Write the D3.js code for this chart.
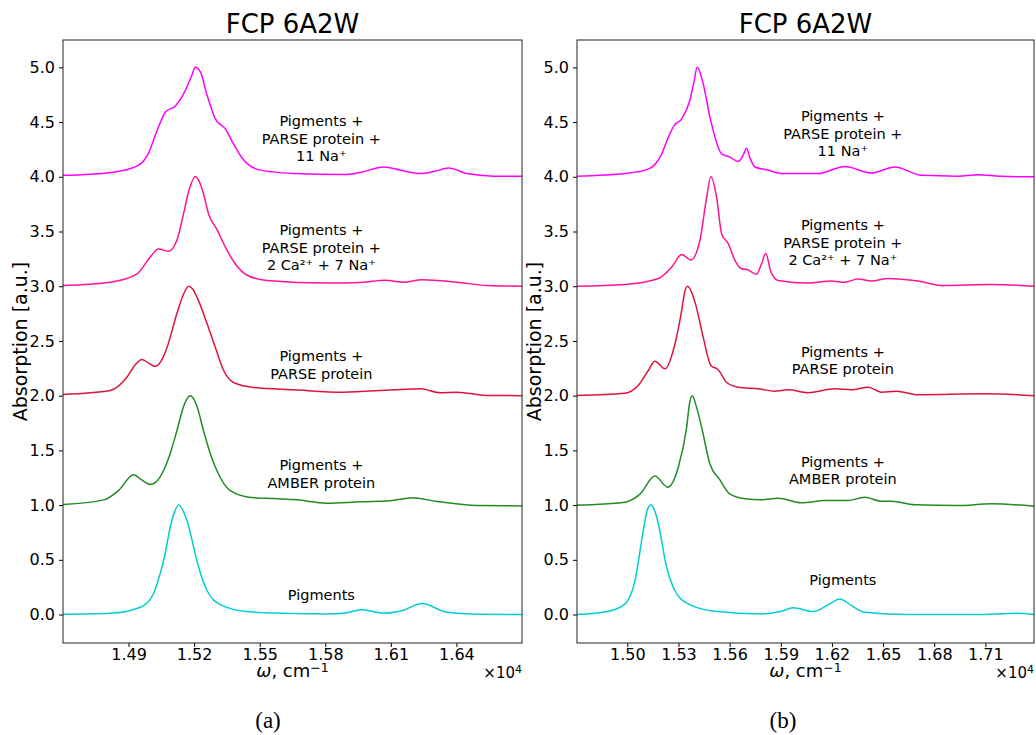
<!DOCTYPE html>
<html>
<head>
<meta charset="utf-8">
<script src="https://cdn.jsdelivr.net/npm/d3@7"></script>
<style>
  body { margin: 0; background: #fff; }
  svg text { font-family: "DejaVu Sans", sans-serif; fill: #000; }
</style>
</head>
<body>
<script>
//series values: [omega in cm^-1, absorption + offset]
//panel (a)
let pigA = [[14600,0.003],[14816,0.012],[14954,0.067],[15014,0.19],[15035,0.31],[15060,0.49],[15098,0.86],[15129,1.0],[15167,0.86],[15213,0.49],[15240,0.31],[15259,0.22],[15320,0.091],[15442,0.027],[15600,0.012],[15808,0.006],[15890,0.015],[15968,0.043],[16067,0.012],[16150,0.035],[16242,0.10],[16357,0.021],[16500,0.003],[16700,0.0]];
let amberA = [[14600,1.005],[14786,1.048],[14854,1.133],[14923,1.277],[14960,1.23],[14999,1.188],[15030,1.22],[15060,1.316],[15090,1.47],[15121,1.68],[15155,1.92],[15182,2.0],[15210,1.92],[15243,1.68],[15274,1.47],[15304,1.316],[15365,1.133],[15472,1.067],[15570,1.06],[15655,1.051],[15808,1.017],[15960,1.03],[16097,1.039],[16197,1.067],[16311,1.033],[16494,0.996],[16700,0.993]];
let parseA = [[14600,2.011],[14816,2.047],[14893,2.17],[14930,2.28],[14961,2.33],[14990,2.30],[15022,2.267],[15050,2.32],[15076,2.44],[15121,2.75],[15150,2.92],[15175,3.0],[15195,2.97],[15213,2.90],[15259,2.66],[15297,2.44],[15335,2.23],[15380,2.12],[15472,2.075],[15655,2.054],[15884,2.032],[16112,2.054],[16235,2.063],[16326,2.027],[16402,2.032],[16540,2.002],[16700,2.0]];
let caNaA = [[14600,3.007],[14816,3.037],[14938,3.11],[15000,3.27],[15037,3.34],[15083,3.32],[15121,3.42],[15150,3.65],[15177,3.88],[15205,4.0],[15225,3.95],[15243,3.845],[15266,3.66],[15304,3.52],[15350,3.33],[15388,3.205],[15442,3.10],[15533,3.053],[15808,3.03],[15960,3.035],[16074,3.055],[16158,3.037],[16242,3.06],[16402,3.037],[16540,3.007],[16700,3.0]];
let na11A = [[14600,4.013],[14820,4.04],[14940,4.10],[14990,4.21],[15030,4.42],[15068,4.59],[15115,4.65],[15160,4.79],[15190,4.93],[15205,5.0],[15228,4.96],[15260,4.74],[15297,4.53],[15342,4.44],[15380,4.30],[15420,4.17],[15487,4.07],[15560,4.045],[15655,4.03],[15884,4.02],[15960,4.04],[16067,4.09],[16145,4.06],[16237,4.03],[16300,4.05],[16364,4.08],[16448,4.03],[16569,4.006],[16700,4.004]];

//panel (b)
let pigB = [[14705,0.0],[14889,0.03],[14987,0.098],[15045,0.31],[15094,0.77],[15118,0.96],[15139,1.0],[15160,0.95],[15182,0.83],[15231,0.43],[15279,0.22],[15357,0.098],[15514,0.03],[15787,0.006],[15904,0.03],[15972,0.061],[16090,0.027],[16187,0.098],[16246,0.143],[16315,0.082],[16392,0.021],[16646,0.0],[17037,0.0],[17290,0.012],[17385,0.0]];
let amberB = [[14705,1.0],[14987,1.027],[15074,1.10],[15162,1.265],[15237,1.164],[15299,1.346],[15348,1.71],[15365,1.93],[15381,2.0],[15405,1.9],[15436,1.71],[15484,1.378],[15543,1.23],[15602,1.10],[15690,1.058],[15787,1.048],[15885,1.063],[16022,1.021],[16158,1.042],[16295,1.042],[16392,1.072],[16490,1.036],[16549,1.036],[16685,1.003],[16939,0.996],[17135,1.012],[17385,0.99]];
let parseB = [[14705,2.002],[14987,2.023],[15064,2.093],[15123,2.23],[15162,2.315],[15221,2.245],[15279,2.47],[15319,2.78],[15337,2.95],[15354,3.0],[15397,2.855],[15445,2.535],[15490,2.276],[15533,2.237],[15582,2.123],[15650,2.078],[15767,2.063],[15865,2.041],[15943,2.054],[16060,2.027],[16217,2.063],[16315,2.054],[16412,2.078],[16490,2.032],[16578,2.041],[16705,2.008],[17095,2.017],[17385,2.0]];
let caNaB = [[14705,3.0],[14987,3.016],[15182,3.07],[15260,3.175],[15319,3.29],[15373,3.24],[15426,3.42],[15465,3.81],[15490,4.0],[15524,3.81],[15553,3.48],[15592,3.39],[15631,3.236],[15670,3.16],[15705,3.15],[15758,3.11],[15787,3.205],[15812,3.30],[15842,3.13],[15885,3.053],[16060,3.03],[16197,3.047],[16275,3.037],[16353,3.065],[16432,3.047],[16529,3.07],[16705,3.047],[16842,3.007],[17135,3.016],[17385,3.0]];
let na11B = [[14705,4.006],[14987,4.03],[15123,4.07],[15202,4.21],[15240,4.36],[15275,4.47],[15319,4.53],[15367,4.70],[15390,4.86],[15410,5.0],[15445,4.85],[15484,4.55],[15553,4.21],[15601,4.18],[15650,4.14],[15680,4.2],[15699,4.26],[15720,4.17],[15748,4.09],[15817,4.065],[15904,4.03],[16119,4.03],[16275,4.095],[16432,4.034],[16568,4.09],[16725,4.013],[16939,4.006],[17056,4.019],[17193,4.004],[17385,4.0]];

//tick values
let xTicksA = [14900, 15200, 15500, 15800, 16100, 16400];
let xTicksB = [15000, 15300, 15600, 15900, 16200, 16500, 16800, 17100];
let yTicks = [0, 0.5, 1, 1.5, 2, 2.5, 3, 3.5, 4, 4.5, 5];

//curve labels, bottom to top
let labelLines = [
    ["Pigments"],
    ["Pigments +", "AMBER protein"],
    ["Pigments +", "PARSE protein"],
    ["Pigments +", "PARSE protein +", "2 Ca\u00B2\u207A + 7 Na\u207A"],
    ["Pigments +", "PARSE protein +", "11 Na\u207A"]
];
//where the first line of each label sits, in data units
let labelXA = 15782, labelYA = [0.185, 1.366, 2.362, 3.514, 4.51];
let labelXB = 16264, labelYB = [0.322, 1.397, 2.402, 3.559, 4.555];

let colors = ["#00CED1", "#228B22", "#DC143C", "#FF1493", "#FF00FF"];

//set up the figure
let width = 1036,
    height = 735;

let svg = d3.select("body")
    .append("svg")
    .attr("width", width)
    .attr("height", height);

let panels = [
    { left: 63, right: 522, xDomain: [14600, 16700], xTicks: xTicksA, series: [pigA, amberA, parseA, caNaA, na11A],
      labelX: labelXA, labelY: labelYA, caption: "(a)", captionX: 268 },
    { left: 577, right: 1034, xDomain: [14705, 17385], xTicks: xTicksB, series: [pigB, amberB, parseB, caNaB, na11B],
      labelX: labelXB, labelY: labelYB, caption: "(b)", captionX: 783 }
];

let plotTop = 40, plotBottom = 643;

panels.forEach(drawPanel);

function drawPanel(p) {
    let x = d3.scaleLinear().domain(p.xDomain).range([p.left, p.right]);
    let y = d3.scaleLinear().domain([-0.26, 5.25]).range([plotBottom, plotTop]);

    let g = svg.append("g");

    //curves
    let line = d3.line()
        .x(function (d) { return x(d[0]); })
        .y(function (d) { return y(d[1]); })
        .curve(d3.curveMonotoneX);

    g.selectAll(".curve")
        .data(p.series)
        .enter()
        .append("path")
        .attr("class", "curve")
        .attr("d", line)
        .attr("fill", "none")
        .attr("stroke", function (d, i) { return colors[i]; })
        .attr("stroke-width", 1.5);

    //curve labels
    labelLines.forEach(function (lines, i) {
        let t = g.append("text")
            .attr("text-anchor", "middle")
            .attr("font-size", "14.5px");
        lines.forEach(function (s, j) {
            t.append("tspan")
                .attr("x", x(p.labelX))
                .attr("y", y(p.labelY[i]) + j * 17.5)
                .attr("dy", "0.36em")
                .text(s);
        });
    });

    //axes
    let xAxis = g.append("g")
        .attr("transform", "translate(0," + plotBottom + ")")
        .call(d3.axisBottom(x)
            .tickValues(p.xTicks)
            .tickFormat(function (d) { return d3.format(".2f")(d / 1e4); })
            .tickSize(4)
            .tickPadding(2));

    let yAxis = g.append("g")
        .attr("transform", "translate(" + p.left + ",0)")
        .call(d3.axisLeft(y)
            .tickValues(yTicks)
            .tickFormat(d3.format(".1f"))
            .tickSize(4)
            .tickPadding(4));

    [xAxis, yAxis].forEach(function (a) {
        a.select(".domain").remove();
        a.selectAll("text")
            .attr("font-size", "16px")
            .attr("font-family", "DejaVu Sans, sans-serif")
            .style("fill", "#000");
        a.selectAll("line").attr("stroke", "#000");
    });

    //frame
    g.append("rect")
        .attr("x", p.left)
        .attr("y", plotTop)
        .attr("width", p.right - p.left)
        .attr("height", plotBottom - plotTop)
        .attr("fill", "none")
        .attr("stroke", "#222")
        .attr("stroke-width", 1);

    //title
    g.append("text")
        .attr("x", (p.left + p.right) / 2)
        .attr("y", 33)
        .attr("text-anchor", "middle")
        .attr("font-size", "26px")
        .text("FCP 6A2W");

    //axis labels
    let xl = g.append("text")
        .attr("x", (p.left + p.right) / 2)
        .attr("y", 677)
        .attr("text-anchor", "middle")
        .attr("font-size", "18px");
    xl.append("tspan").attr("font-style", "italic").text("\u03C9");
    xl.append("tspan").text(", cm");
    xl.append("tspan").attr("dy", "-0.4em").attr("font-size", "12.5px").text("\u22121");

    g.append("text")
        .attr("transform", "translate(" + (p.left - 36) + "," + ((plotTop + plotBottom) / 2) + ") rotate(-90)")
        .attr("text-anchor", "middle")
        .attr("font-size", "19px")
        .text("Absorption [a.u.]");

    //offset text
    let off = g.append("text")
        .attr("x", p.right)
        .attr("y", 678)
        .attr("text-anchor", "end")
        .attr("font-size", "15px");
    off.append("tspan").text("\u00D710");
    off.append("tspan").attr("dy", "-0.45em").attr("font-size", "11px").text("4");

    //caption
    g.append("text")
        .attr("x", p.captionX)
        .attr("y", 728)
        .attr("text-anchor", "middle")
        .attr("font-size", "23px")
        .style("font-family", "'Liberation Serif', 'DejaVu Serif', serif")
        .text(p.caption);
}
</script>
</body>
</html>
